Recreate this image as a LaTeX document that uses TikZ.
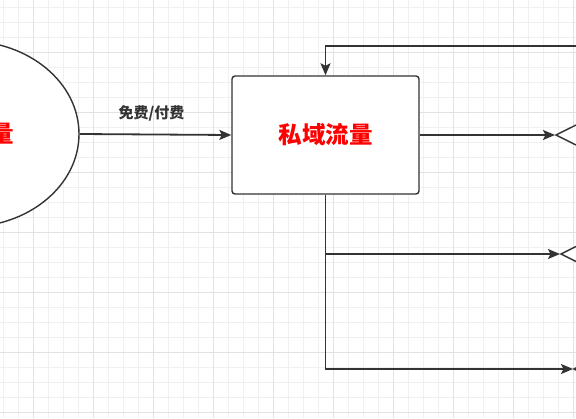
\documentclass[tikz,border=0pt]{standalone}
\usepackage{fontspec}
\setmainfont{Noto Sans CJK SC}
\usepackage{tikz}
\usetikzlibrary{arrows.meta,shapes.geometric}
\definecolor{ink}{RGB}{51,51,51}
\definecolor{gridminor}{RGB}{240,240,240}
\definecolor{gridmajor}{RGB}{226,226,226}

\begin{document}
\begin{tikzpicture}[x=1pt,y=-1pt,
  flow/.style={draw=ink,line width=1.8pt,-{Stealth[length=12pt,width=10pt,inset=2.5pt]}},
  pool/.style={ellipse,draw=ink,line width=1.4pt,fill=white,minimum width=224pt,minimum height=186pt,inner sep=0pt},
  box/.style={rectangle,draw=ink,line width=1.4pt,fill=white,rounded corners=3pt,minimum width=187pt,minimum height=118pt},
  gate/.style={diamond,draw=ink,line width=1.4pt,fill=white,minimum width=140pt,minimum height=70pt,inner sep=0pt,anchor=west},
  bigred/.style={text=red,font=\fontsize{23.5}{28}\selectfont\bfseries},
  tag/.style={text=ink,font=\fontsize{15}{18}\selectfont\bfseries}]
\useasboundingbox[fill=white] (0,0) rectangle (576,418);
\clip (0,0) rectangle (576,418);

% grid
\foreach \gx in {3,18,...,573} \draw[gridminor,line width=0.8pt] (\gx,0) -- (\gx,418);
\foreach \gy in {7,22,...,412} \draw[gridminor,line width=0.8pt] (0,\gy) -- (576,\gy);
\foreach \gx in {33,93,...,573} \draw[gridmajor,line width=1pt] (\gx,0) -- (\gx,418);
\foreach \gy in {52,112,...,412} \draw[gridmajor,line width=1pt] (0,\gy) -- (576,\gy);

% shapes
\node[pool,bigred] (pub) at (-33,134) {公域流量};
\node[box,bigred] (pri) at (325.5,135) {私域流量};
\node[gate] (out1) at (555,135) {};
\node[gate] (out2) at (560,254) {};
\node[gate] (out3) at (573,369) {};
\coordinate (loopin) at (600,46);

% connectors
\draw[flow] (pub.east) -- node[tag,above=9pt,xshift=-4pt] {免费/付费} (pri.west);
\draw[flow] (pri.east) -- (out1.west);
\draw[flow] (loopin) -| (pri.north);
\draw[flow] (pri.south) |- (out2.west);
\draw[flow] (pri.south) |- (out3.west);
\end{tikzpicture}
\end{document}
